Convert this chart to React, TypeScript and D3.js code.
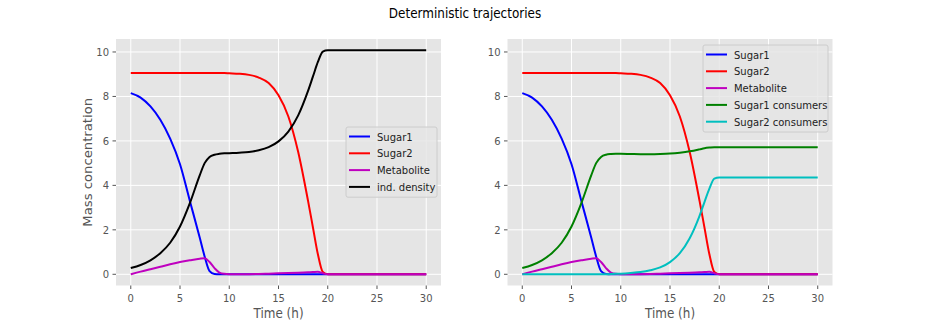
import React from "react";
import * as d3 from "d3";

// time grid (h) and series values
const time = [0, 1, 2, 3, 4, 5, 6, 7, 7.5, 8, 8.5, 9, 9.5, 10, 11, 12, 13, 14, 15, 16, 17, 18, 18.5, 19, 19.5, 20, 21, 25, 30];

const sugar1 = [8.15, 7.95, 7.55, 6.95, 6.1, 4.95, 3.3, 1.65, 0.8, 0.14, 0.01, 0, 0, 0, 0, 0, 0, 0, 0, 0, 0, 0, 0, 0, 0, 0, 0, 0, 0];
const sugar2 = [9.05, 9.05, 9.05, 9.05, 9.05, 9.05, 9.05, 9.05, 9.05, 9.05, 9.05, 9.05, 9.05, 9.04, 9.02, 8.97, 8.85, 8.6, 8.05, 7.1, 5.5, 3.3, 2.1, 0.9, 0.1, 0, 0, 0, 0];
const metabolite = [0, 0.12, 0.23, 0.34, 0.45, 0.55, 0.63, 0.7, 0.72, 0.55, 0.28, 0.08, 0.02, 0.005, 0, 0.005, 0.015, 0.03, 0.045, 0.06, 0.075, 0.09, 0.1, 0.11, 0.05, 0, 0, 0, 0];
const density = [0.28, 0.42, 0.63, 0.95, 1.42, 2.15, 3.2, 4.45, 5.0, 5.28, 5.38, 5.42, 5.44, 5.45, 5.47, 5.5, 5.58, 5.72, 5.98, 6.42, 7.15, 8.25, 8.9, 9.55, 10.02, 10.08, 10.08, 10.08, 10.08];
const sugar1Consumers = [0.28, 0.42, 0.63, 0.95, 1.42, 2.15, 3.2, 4.45, 5.0, 5.28, 5.38, 5.41, 5.42, 5.42, 5.41, 5.4, 5.4, 5.41, 5.43, 5.47, 5.53, 5.62, 5.67, 5.7, 5.72, 5.72, 5.72, 5.72, 5.72];
const sugar2Consumers = [0, 0, 0, 0, 0, 0, 0, 0, 0, 0, 0, 0.01, 0.02, 0.03, 0.06, 0.1, 0.18, 0.31, 0.55, 0.95, 1.62, 2.63, 3.25, 3.85, 4.3, 4.35, 4.35, 4.35, 4.35];

const xTicks = [0, 5, 10, 15, 20, 25, 30];
const yTicks = [0, 2, 4, 6, 8, 10];

const leftSeries = [
  { name: "Sugar1", values: sugar1, color: "#0000ff" },
  { name: "Sugar2", values: sugar2, color: "#ff0000" },
  { name: "Metabolite", values: metabolite, color: "#bf00bf" },
  { name: "ind. density", values: density, color: "#000000" },
];
const rightSeries = [
  { name: "Sugar1", values: sugar1, color: "#0000ff" },
  { name: "Sugar2", values: sugar2, color: "#ff0000" },
  { name: "Metabolite", values: metabolite, color: "#bf00bf" },
  { name: "Sugar1 consumers", values: sugar1Consumers, color: "#008000" },
  { name: "Sugar2 consumers", values: sugar2Consumers, color: "#00bfbf" },
];

const W = 926;
const H = 327;
const font = "DejaVu Sans, sans-serif";
const top = 39;
const bottom = 285.5;
// the reference image is slightly stretched vertically
const SY = 1.1;

// text placed at (x, y) with the vertical stretch applied
const T = ({ x, y, rot = 0, size, fill = "#555", anchor = "start", children }) => (
  <text
    transform={
      rot
        ? `translate(${x},${y}) scale(1,${SY}) rotate(${rot})`
        : `translate(${x},${y}) scale(1,${SY})`
    }
    textAnchor={anchor}
    fontSize={size}
    fill={fill}
    fontFamily={font}
  >
    {children}
  </text>
);

const Panel = ({ left, right, series, legend, yLabel }) => {
  const x = d3.scaleLinear().domain([-1.5, 31.5]).range([left, right]);
  const y = d3.scaleLinear().domain([-0.504, 10.584]).range([bottom, top]);
  const line = d3
    .line()
    .x((d) => x(d[0]))
    .y((d) => y(d[1]))
    .curve(d3.curveMonotoneX);
  const rowH = 16.8;
  return (
    <g>
      <rect x={left} y={top} width={right - left} height={bottom - top} fill="#e5e5e5" />
      {xTicks.map((t) => (
        <g key={"x" + t}>
          <line x1={x(t)} x2={x(t)} y1={top} y2={bottom} stroke="#fff" strokeWidth={1} />
          <line x1={x(t)} x2={x(t)} y1={bottom} y2={bottom + 3.5} stroke="#555" strokeWidth={1} />
          <T x={x(t)} y={bottom + 16} anchor="middle" size={10}>
            {t}
          </T>
        </g>
      ))}
      {yTicks.map((t) => (
        <g key={"y" + t}>
          <line x1={left} x2={right} y1={y(t)} y2={y(t)} stroke="#fff" strokeWidth={1} />
          <line x1={left - 3.5} x2={left} y1={y(t)} y2={y(t)} stroke="#555" strokeWidth={1} />
          <T x={left - 7} y={y(t) + 4} anchor="end" size={10}>
            {t}
          </T>
        </g>
      ))}
      {series.map((s) => (
        <path
          key={s.name}
          d={line(time.map((t, i) => [t, s.values[i]]))}
          fill="none"
          stroke={s.color}
          strokeWidth={2}
        />
      ))}
      <T x={(left + right) / 2} y={318} anchor="middle" size={12}>
        Time (h)
      </T>
      {yLabel && (
        <T x={92} y={(top + bottom) / 2} rot={-90} anchor="middle" size={12}>
          {yLabel}
        </T>
      )}
      <g>
        <rect
          x={legend.x}
          y={legend.y}
          width={legend.w}
          height={series.length * rowH + 3}
          rx={2}
          fill="#e5e5e5"
          fillOpacity={0.8}
          stroke="#cccccc"
          strokeWidth={1}
        />
        {series.map((s, i) => {
          const cy = legend.y + 9.5 + i * rowH;
          return (
            <g key={"l" + s.name}>
              <line x1={legend.x + 3} x2={legend.x + 24} y1={cy} y2={cy} stroke={s.color} strokeWidth={2} />
              <T x={legend.x + 31} y={cy + 4} size={10} fill="#222">
                {s.name}
              </T>
            </g>
          );
        })}
      </g>
    </g>
  );
};

export default function App() {
  return (
    <svg width={W} height={H} style={{ position: "absolute", left: 0, top: 0, background: "#fff" }}>
      <T x={465} y={18} anchor="middle" size={12} fill="#000">
        Deterministic trajectories
      </T>
      <Panel left={116} right={441} series={leftSeries} legend={{ x: 346, y: 127, w: 91 }} yLabel="Mass concentration" />
      <Panel left={507.5} right={832.5} series={rightSeries} legend={{ x: 703, y: 45, w: 125 }} yLabel={null} />
    </svg>
  );
}
